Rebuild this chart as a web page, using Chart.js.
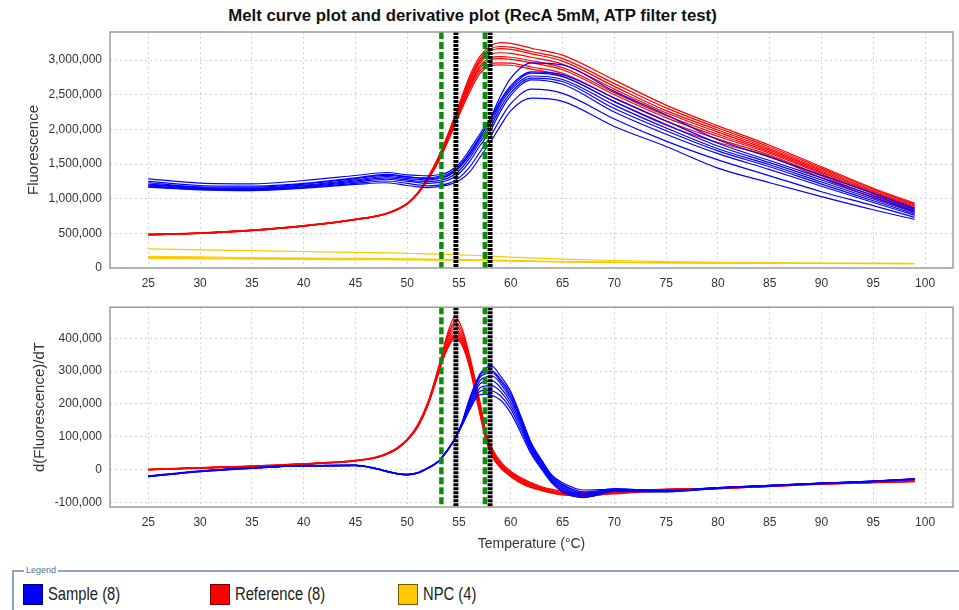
<!DOCTYPE html>
<html>
<head>
<meta charset="utf-8">
<script src="https://cdn.jsdelivr.net/npm/chart.js@4.4.1/dist/chart.umd.min.js"></script>
<style>
  html, body { margin: 0; padding: 0; background: #fff; overflow: hidden; }
  body { width: 959px; height: 610px; position: relative; font-family: "Liberation Sans", Arial, sans-serif; }
  #title { position: absolute; left: 0; top: 6px; width: 945px; text-align: center; font-weight: bold; font-size: 16.8px; line-height: 20px; color: #111; }
  #melt { position: absolute; left: 0; top: 0; }
  #deriv { position: absolute; left: 0; top: 292px; }
  #legendBox { position: absolute; left: 12px; top: 570px; width: 1000px; height: 60px; border-top: 2px solid #8fa3c0; border-left: 2px solid #8fa3c0; }
  #legendBox .cap { position: absolute; left: 10px; top: -7px; padding: 0 2px; background: #fff; font-size: 9px; line-height: 11px; color: #4f6f9f; }
  .item { position: absolute; top: 11px; height: 22px; }
  .item .sw { position: absolute; left: 0; top: 1px; width: 18px; height: 19px; border: 1px solid rgba(0,0,0,0.55); }
  .item .lb { position: absolute; left: 25px; top: 0; white-space: nowrap; font-family: "Liberation Sans", Arial, sans-serif; font-size: 18px; line-height: 22px; color: #222; transform: scaleX(0.82); transform-origin: 0 50%; }
</style>
</head>
<body>
<div id="title">Melt curve plot and derivative plot (RecA 5mM, ATP filter test)</div>
<canvas id="melt" width="959" height="292"></canvas>
<canvas id="deriv" width="959" height="270"></canvas>
<div id="legendBox"><span class="cap">Legend</span></div>

<script>
// groups shown in the legend
const GROUP_NAMES = ['Sample', 'Reference', 'NPC'];
const GROUP_COUNTS = [8, 8, 4];
const GROUP_COLORS = ['#0000ff', '#ff0000', '#ffc800'];

// Tm markers (deg C)
const GREEN_MARKERS = [53.3, 57.5];
const BLACK_MARKERS = [54.7, 58.0];

// tick labels
const X_TICKS = [25, 30, 35, 40, 45, 50, 55, 60, 65, 70, 75, 80, 85, 90, 95, 100];
const Y_TICKS_MELT = [0, 500000, 1000000, 1500000, 2000000, 2500000, 3000000];
const Y_TICKS_DERIV = [-100000, 0, 100000, 200000, 300000, 400000];

// melt curves, fluorescence in thousands
const T_MELT = [25,30,35,40,45,48,50,51,52,53,54,55,56,57,58,59,60,62,65,70,75,80,85,90,95,99];

const SAMPLE_MELT = [
  [1250,1190,1180,1220,1300,1350,1320,1300,1290,1300,1340,1460,1650,1880,2150,2480,2740,2960,2930,2548,2211,1850,1600,1340,1080,865],
  [1286,1224,1214,1262,1334,1378,1344,1335,1330,1345,1387,1500,1700,1930,2150,2420,2630,2830,2790,2450,2120,1800,1550,1300,1050,845],
  [1230,1170,1165,1210,1290,1335,1310,1300,1300,1320,1360,1470,1660,1890,2110,2400,2600,2810,2760,2400,2070,1760,1520,1270,1020,820],
  [1210,1160,1150,1195,1270,1320,1290,1280,1270,1290,1330,1440,1620,1850,2070,2360,2570,2770,2720,2350,2020,1720,1490,1240,995,800],
  [1200,1150,1140,1185,1255,1300,1270,1255,1245,1260,1300,1400,1580,1810,2020,2310,2530,2740,2690,2300,1980,1690,1460,1210,970,780],
  [1185,1140,1130,1170,1240,1280,1250,1235,1220,1235,1270,1360,1530,1760,1970,2260,2490,2715,2650,2250,1930,1650,1420,1180,945,760],
  [1175,1135,1125,1160,1220,1255,1220,1200,1185,1195,1220,1300,1450,1670,1890,2150,2370,2580,2520,2150,1830,1560,1330,1100,900,730],
  [1166,1127,1117,1152,1205,1230,1190,1170,1160,1175,1200,1260,1380,1590,1810,2050,2270,2450,2403,2042,1753,1440,1230,1030,840,700]
];

const REFERENCE_MELT = [
  [490,508,548,612,705,790,935,1085,1310,1600,1960,2360,2760,3050,3200,3250,3240,3170,3070,2710,2350,2050,1770,1460,1150,935],
  [486,505,546,610,703,788,932,1080,1300,1585,1940,2330,2720,3010,3160,3195,3185,3120,3020,2660,2310,2020,1745,1440,1135,920],
  [484,504,545,608,701,786,930,1078,1295,1575,1925,2310,2690,2980,3130,3165,3155,3090,2985,2620,2270,1990,1720,1420,1115,905],
  [482,503,544,607,700,785,928,1075,1290,1565,1910,2290,2660,2950,3080,3105,3095,3040,2940,2580,2240,1960,1700,1400,1100,890],
  [480,502,542,606,699,784,927,1072,1285,1555,1895,2270,2630,2910,3030,3050,3040,2990,2890,2530,2200,1930,1675,1380,1085,875],
  [480,501,541,605,698,783,925,1070,1280,1545,1880,2250,2600,2880,3000,3020,3010,2960,2860,2500,2170,1900,1655,1360,1070,860],
  [478,500,540,604,697,782,923,1068,1275,1535,1865,2225,2570,2840,2945,2960,2955,2900,2810,2450,2120,1860,1630,1330,1040,835],
  [476,499,539,603,696,781,921,1065,1270,1525,1850,2200,2530,2800,2910,2930,2925,2870,2770,2400,2060,1810,1610,1300,1015,810]
];

const NPC_MELT = [
  [275,262,250,238,226,218,212,208,204,200,196,190,184,178,172,165,158,145,128,108,92,80,72,68,66,65],
  [168,160,150,143,138,134,132,130,128,126,124,122,120,118,115,112,108,100,92,84,78,73,70,68,66,65],
  [155,148,140,134,130,127,125,124,122,120,118,116,114,112,110,107,104,97,90,82,76,72,69,67,65,64],
  [140,134,128,124,121,119,117,116,115,114,113,112,110,108,106,104,101,95,88,80,75,71,68,66,64,63]
];

// derivative curves, d(F)/dT in thousands
const T_DERIV = [25,30,35,40,45,47,48,49,50,51,52,53,54,54.6,55.3,56,57,57.6,58.2,59,60,61,62,63,64,65,67,70,75,80,85,90,95,99];

const SAMPLE_DERIV = [
  [-20,-5,5,12,13,3,-5,-12,-15,-10,5,25,65,95,145,215,290,310,314,285,237,160,80,28,-18,-40,-62,-60,-63,-55,-48,-41,-35,-28],
  [-22,-6,4,11,12,2,-6,-13,-16,-11,4,24,63,93,142,210,285,300,300,275,230,155,75,25,-22,-45,-68,-62,-64,-56,-49,-42,-36,-29],
  [-20,-5,5,12,13,3,-5,-12,-15,-10,5,25,64,94,143,208,280,292,295,270,222,150,72,20,-25,-48,-72,-58,-65,-55,-48,-41,-35,-28],
  [-21,-5,5,12,13,3,-5,-12,-15,-10,5,25,64,94,140,200,270,282,285,262,215,145,68,16,-28,-52,-75,-64,-66,-56,-49,-42,-36,-29],
  [-19,-4,6,13,14,4,-4,-11,-14,-9,6,26,65,95,140,195,260,268,270,250,205,138,63,12,-32,-56,-78,-60,-64,-55,-48,-41,-35,-28],
  [-20,-5,5,12,13,3,-5,-12,-15,-10,5,25,64,94,138,190,248,255,255,238,195,130,58,8,-35,-60,-80,-62,-65,-56,-49,-42,-36,-29],
  [-21,-6,4,11,12,2,-6,-13,-16,-11,4,24,63,93,136,185,238,242,240,225,185,120,52,4,-38,-64,-84,-65,-67,-57,-50,-43,-37,-30],
  [-20,-5,5,12,13,3,-5,-12,-15,-10,5,25,64,94,134,180,228,230,226,212,172,110,46,0,-42,-68,-85,-66,-68,-57,-50,-43,-37,-30]
];

const REFERENCE_DERIV = [
  [0,5,10,17,27,37,48,65,92,135,205,310,425,465,430,350,210,115,65,25,-5,-25,-40,-52,-60,-66,-72,-68,-63,-57,-50,-43,-39,-35],
  [0,5,10,17,27,37,47,64,90,132,200,300,415,450,420,345,205,110,60,20,-8,-28,-43,-55,-63,-70,-78,-66,-60,-56,-49,-42,-38,-34],
  [1,6,11,18,28,38,49,66,93,136,205,305,410,440,410,340,200,105,55,18,-10,-30,-45,-57,-66,-73,-80,-72,-62,-58,-51,-44,-40,-36],
  [0,5,10,17,27,36,47,63,89,130,198,295,400,430,400,335,195,100,50,15,-12,-32,-47,-58,-67,-75,-83,-70,-61,-57,-50,-43,-39,-35],
  [-1,4,9,16,26,36,46,62,88,128,195,290,390,420,395,330,190,100,48,12,-15,-35,-50,-60,-68,-72,-76,-74,-64,-58,-51,-44,-39,-36],
  [0,5,10,17,27,37,47,63,90,130,198,292,385,410,388,322,185,95,45,10,-18,-38,-52,-62,-70,-74,-70,-66,-59,-56,-49,-43,-38,-34],
  [0,5,10,17,27,37,48,64,91,132,200,295,380,405,382,318,180,95,42,8,-20,-40,-54,-63,-70,-76,-74,-69,-61,-57,-50,-42,-38,-35],
  [1,6,11,18,28,38,49,65,92,133,202,298,375,400,378,313,170,90,40,5,-22,-42,-55,-64,-72,-77,-80,-71,-63,-58,-51,-44,-40,-37]
];

const FONT = '"Liberation Sans", Arial, sans-serif';

function toSeries(temps, rows, color) {
  return rows.map(r => ({
    data: temps.map((t, i) => ({ x: t, y: r[i] * 1000 })),
    borderColor: color,
    borderWidth: 1.2,
    pointRadius: 0,
    fill: false,
    cubicInterpolationMode: 'monotone'
  }));
}

// plot frame + Tm marker lines
const markersPlugin = {
  id: 'markers',
  afterDatasetsDraw(chart) {
    const { ctx, chartArea: a, scales } = chart;
    const drawAt = (t, color, dash, w) => {
      const px = scales.x.getPixelForValue(t);
      ctx.save();
      ctx.strokeStyle = color;
      ctx.lineWidth = w;
      ctx.setLineDash(dash);
      ctx.beginPath();
      ctx.moveTo(px, a.top);
      ctx.lineTo(px, a.bottom);
      ctx.stroke();
      ctx.restore();
    };
    GREEN_MARKERS.forEach(t => drawAt(t, '#0b8c0b', [7, 3], 4.5));
    BLACK_MARKERS.forEach(t => drawAt(t, '#000', [3, 1], 5));
    ctx.save();
    ctx.strokeStyle = '#9c9c9c';
    ctx.lineWidth = 1.5;
    ctx.strokeRect(a.left, a.top, a.right - a.left, a.bottom - a.top);
    ctx.restore();
  }
};

function axisX(height, title) {
  return {
    type: 'linear', min: 21.3, max: 102.7,
    afterFit: s => { s.height = height; },
    afterBuildTicks: s => { s.ticks = X_TICKS.map(v => ({ value: v })); },
    ticks: { padding: 8, color: '#333', font: { family: FONT, size: 12 } },
    grid: { color: '#d2d2d2', drawTicks: false },
    border: { display: false, dash: [2, 3] },
    title: title
  };
}

function axisY(min, max, tickVals, titleText, pad) {
  return {
    min: min, max: max,
    afterFit: s => { s.width = 110; },
    afterBuildTicks: s => { s.ticks = tickVals.map(v => ({ value: v })); },
    ticks: {
      padding: 8, color: '#333',
      font: { family: FONT, size: 12 },
      callback: v => v.toLocaleString('en-US')
    },
    grid: { color: '#d2d2d2', drawTicks: false },
    border: { display: false, dash: [2, 3] },
    title: { display: true, text: titleText, color: '#333', font: { family: FONT, size: 15 }, padding: { top: pad, bottom: 0 } }
  };
}

const common = {
  responsive: false,
  animation: false,
  plugins: { legend: { display: false }, tooltip: { enabled: false } }
};

new Chart(document.getElementById('melt'), {
  type: 'line',
  data: {
    datasets: [].concat(
      toSeries(T_MELT, NPC_MELT, GROUP_COLORS[2]),
      toSeries(T_MELT, SAMPLE_MELT, GROUP_COLORS[0]),
      toSeries(T_MELT, REFERENCE_MELT, GROUP_COLORS[1])
    )
  },
  options: Object.assign({}, common, {
    layout: { padding: { top: 32, right: 6, left: 0, bottom: 0 } },
    scales: {
      x: axisX(24, { display: false }),
      y: axisY(0, 3404500, Y_TICKS_MELT, 'Fluorescence', 25)
    }
  }),
  plugins: [markersPlugin]
});

new Chart(document.getElementById('deriv'), {
  type: 'line',
  data: {
    datasets: [].concat(
      toSeries(T_DERIV, SAMPLE_DERIV, GROUP_COLORS[0]),
      toSeries(T_DERIV, REFERENCE_DERIV, GROUP_COLORS[1])
    )
  },
  options: Object.assign({}, common, {
    layout: { padding: { top: 7.5, right: 6, left: 0, bottom: 0 } },
    scales: {
      x: axisX(55, { display: true, text: 'Temperature (\u00B0C)', color: '#333', font: { family: FONT, size: 14 }, padding: { top: 0, bottom: 9.6 } }),
      y: axisY(-113800, 494400, Y_TICKS_DERIV, 'd(Fluorescence)/dT', 31)
    }
  }),
  plugins: [markersPlugin]
});

// legend panel
const box = document.getElementById('legendBox');
const ITEM_X = [9, 196, 384];
GROUP_NAMES.forEach((name, i) => {
  const it = document.createElement('div');
  it.className = 'item';
  it.style.left = ITEM_X[i] + 'px';
  it.innerHTML = '<span class="sw" style="background:' + GROUP_COLORS[i] + '"></span>' +
    '<span class="lb">' + name + ' (' + GROUP_COUNTS[i] + ')</span>';
  box.appendChild(it);
});
</script>
</body>
</html>
